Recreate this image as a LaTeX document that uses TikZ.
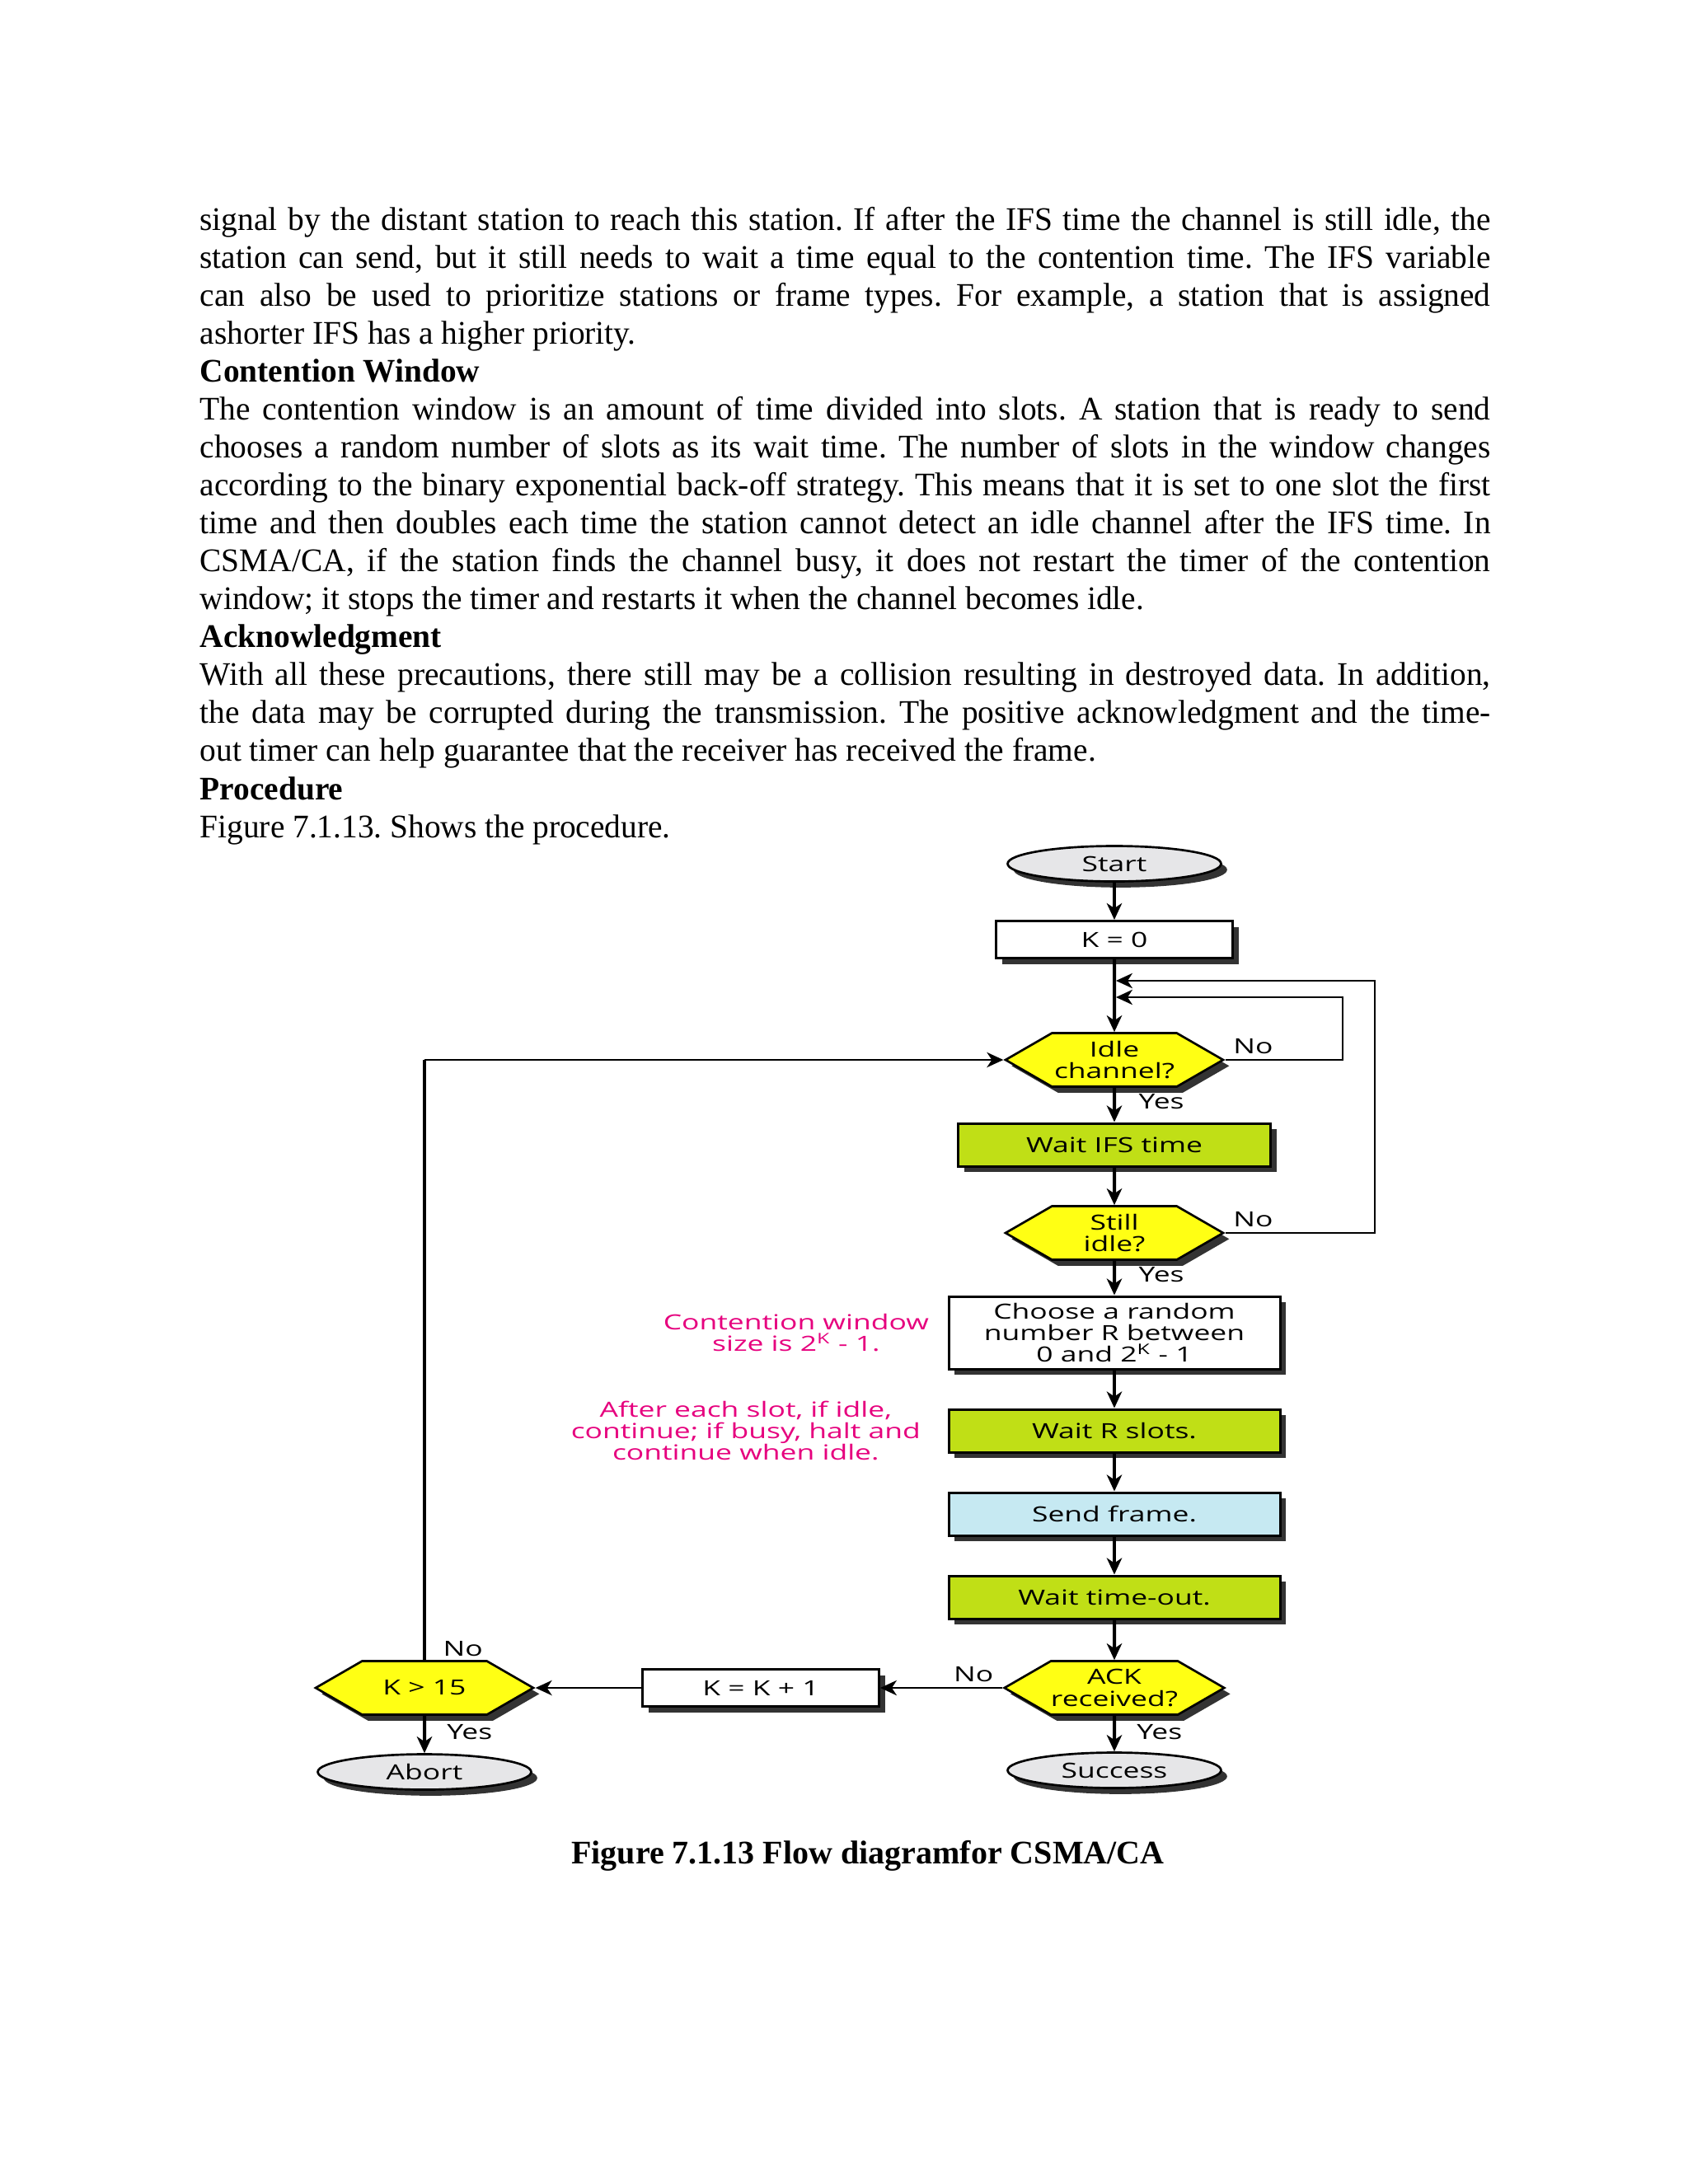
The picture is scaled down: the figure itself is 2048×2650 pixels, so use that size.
\documentclass[tikz,border=0pt]{standalone}
\usepackage{fontspec}
\setmainfont{Liberation Serif}
\newfontfamily\pagefont[FakeStretch=0.985]{Liberation Serif}
\newfontfamily\chartfont[FakeStretch=1.4]{Open Sans}
\usepackage{tikz}
\usetikzlibrary{positioning,arrows.meta,shapes.geometric,shapes.symbols,shadows}
\definecolor{decyellow}{HTML}{FFFF14}
\definecolor{waitgreen}{HTML}{C0DF16}
\definecolor{sendblue}{HTML}{C6E9F2}
\definecolor{termgray}{HTML}{E6E6E8}
\definecolor{notepink}{HTML}{E6007E}
\definecolor{shadowgray}{HTML}{333333}
% one justified line of the page text
\newcommand{\jline}[1]{\makebox[\linewidth][s]{#1}\par}

\begin{document}
\begin{tikzpicture}[x=0.3pt, y=-0.3pt,
  every node/.style={font=\chartfont\fontsize{7.6pt}{7.9pt}\selectfont},
  boxshadow/.style={drop shadow={shadow xshift=2.2pt, shadow yshift=-2.2pt,
                    fill=shadowgray, opacity=1}},
  stepbox/.style={rectangle, draw=black, line width=0.9pt, boxshadow,
                  minimum width=120.6pt, minimum height=15.6pt, inner sep=1pt, align=center},
  termin/.style={ellipse, draw=black, line width=0.8pt, fill=termgray, boxshadow,
                 minimum width=77.7pt, minimum height=12.9pt, inner sep=0pt},
  decision/.style={signal, signal to=east and west, signal pointer angle=60,
                   draw=black, line width=0.8pt, fill=decyellow, boxshadow,
                   minimum width=79.2pt, minimum height=19.5pt, inner sep=0pt, align=center},
  flow/.style={-{Stealth[length=6pt, width=5.5pt, inset=1.8pt]}, line width=1.2pt},
  backflow/.style={-{Stealth[length=6pt, width=5.5pt, inset=1.8pt]}, line width=0.6pt},
  lbl/.style={inner sep=0pt},
  note/.style={text=notepink, align=center, inner sep=0pt}
]
\fill[white] (0,0) rectangle (2048,2650);
\useasboundingbox (0,0) rectangle (2048,2650);

% page text above the figure
\node[anchor=base west, inner sep=0pt, text width=469.75pt,
      font=\pagefont\fontsize{12pt}{13.82pt}\selectfont] (body) at (242,279)
  {\frenchspacing\spaceskip=2.95pt plus 4pt minus 1.2pt\relax
   \jline{signal by the distant station to reach this station. If after the IFS time the channel is still idle, the}
   \jline{station can send, but it still needs to wait a time equal to the contention time. The IFS variable}
   \jline{can also be used to prioritize stations or frame types. For example, a station that is assigned}
   ashorter IFS has a higher priority.\par
   \textbf{Contention Window}\par
   \jline{The contention window is an amount of time divided into slots. A station that is ready to send}
   \jline{chooses a random number of slots as its wait time. The number of slots in the window changes}
   \jline{according to the binary exponential back-off strategy. This means that it is set to one slot the first}
   \jline{time and then doubles each time the station cannot detect an idle channel after the IFS time. In}
   \jline{CSMA/CA, if the station finds the channel busy, it does not restart the timer of the contention}
   window; it stops the timer and restarts it when the channel becomes idle.\par
   \textbf{Acknowledgment}\par
   \jline{With all these precautions, there still may be a collision resulting in destroyed data. In addition,}
   \jline{the data may be corrupted during the transmission. The positive acknowledgment and the time-}
   out timer can help guarantee that the receiver has received the frame.\par
   \textbf{Procedure}\par
   Figure 7.1.13. Shows the procedure.};

% main column
\node[termin] (start) at (1352,1048) {Start};
\node[stepbox, fill=white, minimum width=86.1pt, minimum height=13.5pt] (kzero) at (1352,1140) {K = 0};
\node[decision] (idle) at (1352,1286) {Idle\\channel?};
\node[stepbox, fill=waitgreen, minimum width=113.7pt] (ifs) at (1352,1389) {Wait IFS time};
\node[decision] (still) at (1352,1496) {Still\\idle?};
\node[stepbox, fill=white, minimum height=26.4pt] (choose) at (1352,1617)
  {Choose a random\\number R between\\0 and 2\textsuperscript{K} - 1};
\node[stepbox, fill=waitgreen] (slots) at (1352,1736) {Wait R slots.};
\node[stepbox, fill=sendblue] (send) at (1352,1837) {Send frame.};
\node[stepbox, fill=waitgreen] (timeout) at (1352,1938) {Wait time-out.};
\node[decision] (ack) at (1352,2048) {ACK\\received?};
\node[termin] (success) at (1352,2148) {Success};

% retry branch
\node[stepbox, fill=white, minimum width=86.1pt, minimum height=13.5pt] (kinc) at (923,2048) {K = K + 1};
\node[decision] (klimit) at (515,2048) {K > 15};
\node[termin] (abort) at (515,2150) {Abort};

% notes
\node[note, left=6.6pt of choose] (cwnote) {Contention window\\size is 2\textsuperscript{K} - 1.};
\node[note, left=9.6pt of slots] (slotnote) {After each slot, if idle,\\continue; if busy, halt and\\continue when idle.};

% forward flow
\draw[flow] (start) -- (kzero);
\draw[flow] (kzero) -- (idle);
\draw[flow] (idle) -- (ifs);
\draw[flow] (ifs) -- (still);
\draw[flow] (still) -- (choose);
\draw[flow] (choose) -- (slots);
\draw[flow] (slots) -- (send);
\draw[flow] (send) -- (timeout);
\draw[flow] (timeout) -- (ack);
\draw[flow] (ack) -- (success);
\draw[flow] (klimit) -- (abort);
\draw[backflow] (ack.west) -- (kinc.east);
\draw[backflow] (kinc.west) -- (klimit.east);

% loops back to the channel test
\coordinate (outerR) at (1668,1190);
\coordinate (innerR) at (1629,1210);
\draw[backflow, shorten >=0.6pt] (still.east) -| (outerR) -- (outerR -| kzero.south);
\draw[backflow, shorten >=0.6pt] (idle.east) -| (innerR) -- (innerR -| kzero.south);
\coordinate (leftC) at (klimit.north |- idle.west);
\draw[line width=1.2pt] (klimit.north) -- (leftC);
\draw[backflow] (leftC) -- (idle.west);

% branch labels
\node[lbl, above right=2pt and 2.7pt of idle.east] {No};
\node[lbl, below right=2pt and 8.7pt of idle.south] {Yes};
\node[lbl, above right=2pt and 2.7pt of still.east] {No};
\node[lbl, below right=2pt and 8.7pt of still.south] {Yes};
\node[lbl, above left=2pt and 3pt of ack.west] {No};
\node[lbl, below right=3pt and 8pt of ack.south] {Yes};
\node[lbl, above right=1pt and 6.6pt of klimit.north] {No};
\node[lbl, below right=3pt and 8pt of klimit.south] {Yes};

% caption
\node[anchor=base, font=\rmfamily\bfseries\fontsize{12pt}{13.82pt}\selectfont] (caption) at (1053,2261)
  {Figure 7.1.13 Flow diagramfor CSMA/CA};
\end{tikzpicture}
\end{document}
